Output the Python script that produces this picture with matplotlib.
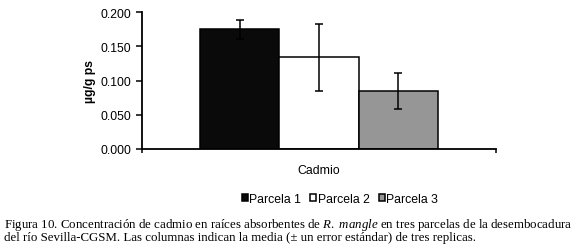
import matplotlib
matplotlib.use("Agg")
import matplotlib.pyplot as plt

# Datos
parcelas = ["Parcela 1", "Parcela 2", "Parcela 3"]
medias = [0.175, 0.134, 0.085]
errores = [0.014, 0.049, 0.026]
colores = ["#0a0a0a", "#ffffff", "#969696"]
categoria = "Cadmio"
yticks = [0.000, 0.050, 0.100, 0.150, 0.200]
ytick_labels = ["0.000", "0.050", "0.100", "0.150", "0.200"]

plt.rcParams["font.family"] = ["Liberation Sans", "DejaVu Sans"]
plt.rcParams["mathtext.fontset"] = "custom"
plt.rcParams["mathtext.rm"] = "Liberation Serif"
plt.rcParams["mathtext.it"] = "Liberation Serif:italic"

fig = plt.figure(figsize=(5.76, 2.51), dpi=100)
ax = fig.add_axes([142 / 576, 1 - 150 / 251, 354 / 576, 137 / 251])

posiciones = [-1, 0, 1]
for x, m, e, c, lab in zip(posiciones, medias, errores, colores, parcelas):
    ax.bar(x, m, width=1.0, color=c, edgecolor="black", linewidth=1.1, label=lab, zorder=2)
    ax.errorbar(x, m, yerr=e, color="black", elinewidth=1.1, capsize=2.6,
                capthick=1.1, zorder=3)

ax.set_xlim(-2.24, 2.24)
ax.set_ylim(0, 0.2)
ax.set_yticks(yticks)
ax.set_yticklabels(ytick_labels, fontsize=8.8)
ax.set_xticks([-2.24, 2.24])
ax.set_xticklabels(["", ""])
ax.tick_params(axis="y", direction="out", length=4, width=1.1, pad=4)
ax.tick_params(axis="x", direction="out", length=3, width=1.1)
for s in ["top", "right"]:
    ax.spines[s].set_visible(False)
for s in ["left", "bottom"]:
    ax.spines[s].set_linewidth(1.3)
ax.set_ylabel("µg/g ps", fontsize=8.8, fontweight="bold", labelpad=3)

fig.text(319 / 576, 1 - 171 / 251, categoria, ha="center", va="center", fontsize=8.8)

handles, labels = ax.get_legend_handles_labels()
fig.legend(handles, labels, loc="center", bbox_to_anchor=(340 / 576, 1 - 200 / 251),
           ncol=3, frameon=False, fontsize=8.8, handlelength=0.5, handleheight=0.5,
           handletextpad=0.12, columnspacing=0.75, borderpad=0)

cap1 = ("Figura 10. Concentración de cadmio en raíces absorbentes de $R.\\ mangle$ "
        "en tres parcelas de la desembocadura")
cap2 = ("del río Sevilla-CGSM. Las columnas indican la media (± un error estándar) "
        "de tres replicas.")
fig.text(4 / 576, 1 - 228.5 / 251, cap1, ha="left", va="baseline", fontsize=9.3,
         family="Liberation Serif")
fig.text(4 / 576, 1 - 241.5 / 251, cap2, ha="left", va="baseline", fontsize=9.3,
         family="Liberation Serif")

fig.savefig("out.png", dpi=100)
